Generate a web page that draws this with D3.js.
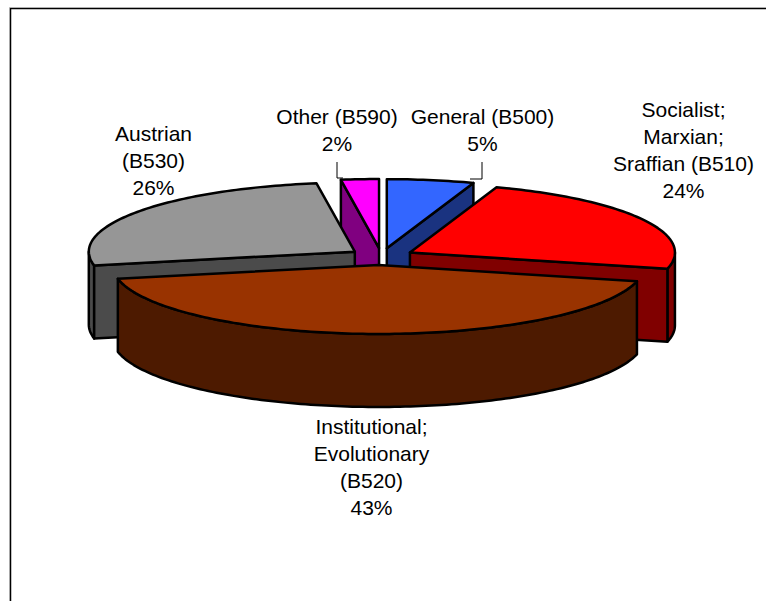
<!DOCTYPE html>
<html><head><meta charset="utf-8">
<script src="https://cdn.jsdelivr.net/npm/d3@7/dist/d3.min.js"></script>
<style>html,body{margin:0;padding:0;background:#fff}svg{display:block}text{font-family:"Liberation Sans",Arial,sans-serif;font-size:21px;fill:#000}</style>
</head><body><svg id="c" width="766" height="601"></svg>
<script>
const categories=["General (B500)","Socialist; Marxian; Sraffian (B510)","Institutional; Evolutionary (B520)","Austrian (B530)","Other (B590)"];
const values=[5.3,23.5,43.0,25.9,2.3];
const labelLines=[["General (B500)","5%"],["Socialist;","Marxian;","Sraffian (B510)","24%"],["Institutional;","Evolutionary","(B520)","43%"],["Austrian","(B530)","26%"],["Other (B590)","2%"]];
const topColors=["#3366FF","#FF0000","#993300","#969696","#FF00FF"];
const sideColors=["#1A3380","#800000","#4D1A00","#4B4B4B","#800080"];
const drawOrder=[4,0,3,1,2];

const W=766,H=601;
const svg=d3.select("#c");
svg.append("path").attr("d",`M9.5,${H}V7.5H${W}`).attr("fill","none").attr("stroke","#b0b0b0").attr("stroke-width",1);
svg.append("path").attr("d",`M10.6,${H}V8.6H${W}`).attr("fill","none").attr("stroke","#000").attr("stroke-width",1.3);

const cx=381.4,cy=256.5,rx=265,ry=69,depth=73,explode=32.5,tilt=ry/rx;
const pie=d3.pie().value(d=>d).sort(null)(values);
const line=d3.line();
function down(p){return [p[0],p[1]+depth];}
const HALF=Math.PI/2;

const g=svg.append("g").attr("stroke","#000").attr("stroke-width",2.5).attr("stroke-linejoin","round");
drawOrder.forEach(i=>{
  const s=pie[i],mid=(s.startAngle+s.endAngle)/2;
  const front=i===2;
  const srx=front?rx+1:(i===3?rx+1:rx);
  const c=[cx+explode*Math.sin(mid)-(front?2.3:0),cy-explode*tilt*Math.cos(mid)];
  const pt=a=>[c[0]+srx*Math.sin(a),c[1]-ry*Math.cos(a)];
  const arcPts=(a0,a1)=>{
    const n=Math.max(2,Math.ceil((a1-a0)/0.02));
    return d3.range(n+1).map(k=>pt(a0+(a1-a0)*k/n));
  };
  const a0=s.startAngle,a1=s.endAngle;
  const faces=[];
  const l=Math.max(a0,HALF),h=Math.min(a1,3*HALF);
  if(h>l){const t=arcPts(l,h);faces.push(t.concat(t.slice().reverse().map(down)));}
  if(Math.sin(a0)<-1e-6){const e=pt(a0);faces.push([c,e,down(e),down(c)]);}
  if(Math.sin(a1)>1e-6){const e=pt(a1);faces.push([c,e,down(e),down(c)]);}
  faces.forEach(f=>g.append("path").attr("d",line(f)+"Z").attr("fill",sideColors[i]));
  g.append("path").attr("d",line([c].concat(arcPts(a0,a1)))+"Z").attr("fill",topColors[i]);
});

const labelPos=[[482.5,124],[683.5,117],[371.5,434],[153.5,141],[337,124]];
const lh=27;
labelLines.forEach((ls,i)=>{
  const t=svg.append("text").attr("text-anchor","middle");
  ls.forEach((s,j)=>t.append("tspan").attr("x",labelPos[i][0]).attr("y",labelPos[i][1]+j*lh).text(s));
});
const leaders=[[[482,162],[482,179],[470,179]],[[337,162],[337,178],[343,178]]];
leaders.forEach(p=>svg.append("path").attr("d",line(p)).attr("fill","none").attr("stroke","#000").attr("stroke-width",1));
</script></body></html>
